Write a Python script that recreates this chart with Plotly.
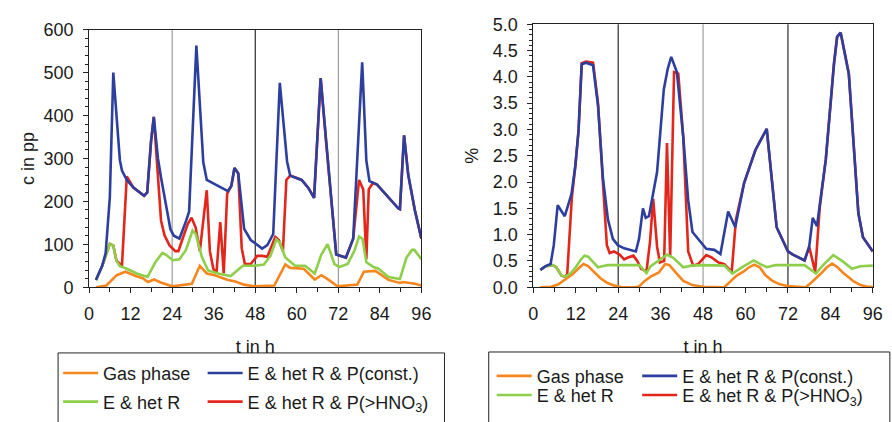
import plotly.graph_objects as go

# ---------------- data: left panel (c in pp) ----------------
gas_t_L = [2, 5, 8, 10.5, 13.5, 15.5, 17, 18.8, 20.7, 24, 29.7, 32, 34, 36.3, 40.1, 42, 44.8, 47.7, 53.5, 56.7, 58.1, 62, 65.2, 67.1, 68.5, 71.8, 77.5, 79.4, 82.7, 86.5, 89.8, 90.7, 94.1, 96]
gas_c_L = [0, 4, 28, 36, 26, 21, 12, 18, 11, 2, 8, 50, 32, 28, 17, 14, 6, 2, 4, 53, 45, 43, 18, 28, 21, 2, 6, 36, 38, 17, 10, 12, 8, 4]

het_t_L = [2, 3.8, 4.8, 6, 7, 7.9, 8.9, 10.9, 13.8, 16.9, 19.2, 21.2, 22.1, 24.2, 26.1, 28, 29.9, 30.8, 32.6, 34.4, 37.3, 40.9, 44.4, 47.7, 50.5, 52.4, 54.1, 55.1, 56.7, 59.5, 62.4, 65.2, 67.1, 68.9, 70.9, 72.3, 74.7, 76.6, 78, 79, 80.1, 82.2, 83.6, 86.5, 89.8, 91.7, 93.3, 94, 96]
het_c_L = [17, 50, 73, 101, 97, 62, 49, 43, 32, 24, 59, 80, 76, 63, 65, 87, 132, 124, 70, 39, 32, 26, 50, 50, 53, 73, 111, 104, 69, 50, 50, 32, 76, 100, 54, 47, 54, 84, 118, 113, 58, 47, 43, 24, 19, 69, 87, 87, 65]

const_t_L = [2, 3.8, 4.8, 6, 7, 8.9, 9.5, 10.9, 12.8, 15.9, 16.8, 17.9, 18.7, 19.9, 20.8, 22.6, 23.5, 24.5, 26.1, 28, 28.9, 31, 33, 34, 40.1, 41.1, 42, 43.1, 44.8, 46.7, 50, 51.5, 53.2, 55.1, 57.2, 58.1, 61.4, 63.3, 65, 66.9, 68.5, 71.4, 74.2, 76.3, 78.9, 80.1, 81, 83.2, 89.3, 89.8, 91, 92.2, 94.1, 96]
const_c_L = [17, 50, 80, 210, 500, 296, 272, 250, 232, 213, 221, 339, 397, 300, 255, 175, 135, 120, 113, 154, 176, 563, 291, 250, 224, 236, 278, 265, 136, 110, 90, 98, 124, 476, 293, 260, 250, 232, 208, 487, 336, 76, 69, 113, 524, 295, 247, 239, 184, 182, 354, 262, 180, 113]

hno3_t_L = [2, 3.8, 4.8, 6, 7, 7.9, 9.5, 10.9, 12.8, 15.9, 16.8, 17.9, 18.7, 19.7, 20.8, 21.8, 23.2, 24.9, 25.8, 27.5, 28.5, 29.6, 30.8, 32.0, 34.0, 34.9, 35.9, 36.8, 37.9, 38.9, 39.9, 41.1, 42, 43.1, 44.1, 45, 46.7, 48.6, 50, 51.5, 53.8, 54.8, 56, 57, 58.1, 61.4, 63.3, 65, 66.9, 68.5, 71.4, 74.2, 76.3, 78.0, 79.2, 80.1, 80.8, 82, 83.2, 89.3, 89.8, 91, 92.2, 94.1, 96]
hno3_c_L = [17, 50, 73, 101, 97, 62, 50, 258, 232, 213, 221, 339, 397, 290, 155, 121, 98, 84, 84, 124, 147, 162, 139, 84, 226, 84, 43, 32, 152, 32, 218, 236, 278, 265, 91, 54, 54, 73, 73, 71, 117, 110, 84, 250, 260, 250, 232, 208, 487, 336, 76, 69, 113, 250, 228, 65, 228, 243, 239, 184, 182, 354, 262, 180, 113]

# ---------------- data: right panel (%) ----------------
gas_t_R = [2, 5, 7, 9, 11, 13, 14.2, 15.5, 17, 19, 21, 23, 25, 29, 30, 31.5, 33.2, 35.5, 37.3, 38.5, 40, 42.4, 45, 48, 54, 55.5, 57.5, 59.5, 61, 62.5, 64, 65.6, 67.4, 69.5, 72, 77, 78.5, 81.3, 83, 84.5, 86, 87.5, 90.6, 92.5, 94.5, 96]
gas_p_R = [0, 0.01, 0.05, 0.14, 0.24, 0.37, 0.44, 0.4, 0.3, 0.17, 0.08, 0.03, 0.0, 0.0, 0.02, 0.12, 0.2, 0.28, 0.44, 0.42, 0.3, 0.12, 0.04, 0.01, 0.0, 0.1, 0.22, 0.3, 0.38, 0.43, 0.38, 0.23, 0.13, 0.06, 0.02, 0.0, 0.08, 0.26, 0.38, 0.45, 0.38, 0.28, 0.11, 0.04, 0.01, 0.01]

het_t_R = [2, 3.5, 5.5, 6.5, 8, 9, 10.5, 12, 13.5, 14.5, 15.5, 17, 18.3, 19.5, 21, 30, 31, 32, 33.2, 35.5, 37.8, 39.6, 42.4, 44.7, 48, 54, 56.3, 59.1, 62.3, 64.2, 66, 68.4, 76.7, 79.9, 81.8, 84.8, 87.3, 90.1, 92.4, 96]
het_p_R = [0.33, 0.4, 0.42, 0.38, 0.22, 0.2, 0.26, 0.38, 0.53, 0.6, 0.58, 0.47, 0.38, 0.4, 0.42, 0.42, 0.35, 0.27, 0.4, 0.51, 0.62, 0.56, 0.38, 0.41, 0.42, 0.41, 0.26, 0.38, 0.51, 0.44, 0.38, 0.42, 0.42, 0.26, 0.41, 0.61, 0.5, 0.35, 0.4, 0.41]

const_t_R = [2, 3.5, 4.9, 5.8, 6.9, 8.9, 10.8, 11.9, 12.8, 13.7, 14.9, 16.9, 18.3, 19.7, 21.1, 22.5, 23.9, 25.7, 29, 29.9, 31, 31.8, 32.7, 35, 36.9, 38, 39, 40.6, 42.4, 43.8, 45, 48, 48.9, 51.2, 52.9, 55.1, 57.1, 59.6, 62.8, 66, 67.4, 68.8, 72, 73.4, 76.7, 78, 79, 80.2, 82.7, 85, 85.9, 86.9, 89.2, 91.9, 93.2, 96]
const_p_R = [0.33, 0.4, 0.44, 0.8, 1.56, 1.35, 1.77, 2.31, 2.98, 4.24, 4.27, 4.22, 3.46, 2.07, 1.29, 0.92, 0.8, 0.74, 0.68, 0.92, 1.5, 1.32, 1.35, 2.19, 3.76, 4.15, 4.38, 4.09, 2.86, 1.65, 1.05, 0.8, 0.73, 0.71, 0.63, 1.44, 1.14, 1.98, 2.61, 3.01, 2.13, 1.14, 0.68, 0.62, 0.51, 0.77, 1.32, 1.16, 2.43, 4.24, 4.76, 4.84, 4.06, 1.41, 0.95, 0.68]

hno3_t_R = [2, 3.5, 5.5, 6.5, 8, 9, 9.6, 10.9, 11.9, 12.8, 13.7, 14.9, 16.9, 18.3, 19.5, 20.2, 20.8, 21.6, 22.8, 24.4, 25.7, 26.6, 28.3, 29.4, 30.5, 32, 33, 33.9, 35, 35.8, 37, 37.8, 38.7, 39.8, 41, 42.4, 43.8, 45.2, 46.6, 48.9, 50.3, 52.4, 54, 56.1, 57.3, 59.6, 62.8, 66, 67.4, 68.8, 72, 73.4, 76.7, 78, 79.7, 81, 82.7, 85, 85.9, 86.9, 89.2, 91.9, 93.2, 96]
hno3_p_R = [0.33, 0.4, 0.42, 0.38, 0.22, 0.2, 0.25, 1.7, 2.31, 2.98, 4.26, 4.29, 4.27, 3.5, 2.2, 1.4, 0.8, 0.65, 0.68, 0.62, 0.53, 0.56, 0.6, 0.5, 0.35, 0.3, 0.86, 1.68, 0.77, 0.47, 0.5, 2.74, 0.59, 4.09, 4.06, 2.86, 0.68, 0.41, 0.44, 0.61, 0.57, 0.47, 0.44, 0.29, 1.29, 1.98, 2.61, 3.01, 2.13, 1.14, 0.68, 0.62, 0.51, 0.77, 0.29, 1.53, 2.43, 4.24, 4.76, 4.84, 4.06, 1.41, 0.95, 0.68]

x_ticks = [0, 12, 24, 36, 48, 60, 72, 84, 96]
day_marks = [24, 48, 72]
names = {"gas": "Gas phase", "het": "E & het R", "const": "E & het R & P(const.)",
         "hno3": "E & het R & P(>HNO<sub>3</sub>)"}

# ---------------- styling ----------------
W, H = 892, 422
FONT = "Liberation Sans, Arial, Helvetica, sans-serif"
COL = {"gas": "#f7861e", "het": "#8dcf4a", "const": "#2d3f9e", "hno3": "#e3261b"}
LW = 2.6


def px(x):
    return x / W


def py(y):
    return 1 - y / H


fig = go.Figure()


def add_panel(xa, ya, series, legends):
    for key, t, v in series:
        fig.add_trace(go.Scatter(
            x=t, y=v, mode="lines", name=names[key],
            line=dict(color=COL[key], width=LW),
            xaxis=xa, yaxis=ya, legend=legends[key], hoverinfo="skip"))


add_panel("x", "y", [("hno3", hno3_t_L, hno3_c_L), ("gas", gas_t_L, gas_c_L),
                     ("het", het_t_L, het_c_L), ("const", const_t_L, const_c_L)],
          {"gas": "legend", "const": "legend2", "het": "legend3", "hno3": "legend4"})
add_panel("x2", "y2", [("hno3", hno3_t_R, hno3_p_R), ("gas", gas_t_R, gas_p_R),
                       ("het", het_t_R, het_p_R), ("const", const_t_R, const_p_R)],
          {"gas": "legend5", "const": "legend6", "het": "legend7", "hno3": "legend8"})

tickfont = dict(family=FONT, size=18, color="#1a1a1a")
titlefont = dict(family=FONT, size=18, color="#1a1a1a")

xcommon = dict(range=[0, 96], tickvals=x_ticks, ticks="outside", ticklen=5, tickwidth=1,
               tickcolor="#222", showline=True, linecolor="#222", linewidth=1, mirror=True,
               showgrid=False, zeroline=False, tickfont=tickfont, ticklabelstandoff=5,
               minor=dict(dtick=6, tick0=0, ticks="outside", ticklen=4, tickcolor="#222", showgrid=False),
               title=dict(text="t in h", font=titlefont, standoff=17))
ycommon = dict(ticks="outside", ticklen=5, tickwidth=1, tickcolor="#222", showline=True,
               linecolor="#222", linewidth=1, mirror=True, showgrid=False, zeroline=False,
               tickfont=tickfont, ticklabelstandoff=6)

L_x = [px(85.5), px(423.5)]
R_x = [px(537.3), px(882.7)]
L_y = [py(291), py(20.7)]
R_y = [py(291), py(15)]

legend_pos = {
    "legend": (60, 375), "legend2": (207, 375), "legend3": (60, 405), "legend4": (207, 405),
    "legend5": (501, 378), "legend6": (649, 378), "legend7": (501, 398), "legend8": (649, 398),
}
leg_layout = {}
for k, (lx, ly) in legend_pos.items():
    leg_layout[k] = dict(x=px(lx - 6), y=py(ly - 13), xanchor="left", yanchor="top",
                         bgcolor="rgba(0,0,0,0)", borderwidth=0, itemwidth=35,
                         font=dict(family=FONT, size=18, color="#1a1a1a"))

shapes = []
for xr, colors in (("x", ["#8a8a8a", "#000000", "#8a8a8a"]), ("x2", ["#000000", "#8a8a8a", "#000000"])):
    for d, c in zip(day_marks, colors):
        shapes.append(dict(type="line", xref=xr, yref=("y" if xr == "x" else "y2") + " domain",
                           x0=d, x1=d, y0=0, y1=1, line=dict(color=c, width=1), layer="below"))
# legend frames
shapes.append(dict(type="rect", xref="paper", yref="paper", x0=px(54), x1=px(447),
                   y0=py(440), y1=py(360), line=dict(color="#222", width=1)))
shapes.append(dict(type="rect", xref="paper", yref="paper", x0=px(492), x1=px(900),
                   y0=py(440), y1=py(359), line=dict(color="#222", width=1)))

fig.update_layout(
    width=W, height=H, margin=dict(l=0, r=0, t=0, b=0),
    paper_bgcolor="white", plot_bgcolor="white",
    font=dict(family=FONT, size=18, color="#1a1a1a"),
    xaxis=dict(domain=L_x, anchor="y", **xcommon),
    yaxis=dict(domain=L_y, anchor="x", range=[0, 600], dtick=100,
               minor=dict(dtick=20, ticks="outside", ticklen=3, tickcolor="#222", showgrid=False),
               title=dict(text="c in pp", font=titlefont, standoff=4), **ycommon),
    xaxis2=dict(domain=R_x, anchor="y2", **xcommon),
    yaxis2=dict(domain=R_y, anchor="x2", range=[0, 5], dtick=0.5, tickformat=".1f",
                minor=dict(dtick=0.1, ticks="outside", ticklen=3, tickcolor="#222", showgrid=False),
                title=dict(text="%", font=titlefont, standoff=9), **ycommon),
    shapes=shapes,
    showlegend=True,
    **leg_layout,
)

fig.write_html("out.html")
